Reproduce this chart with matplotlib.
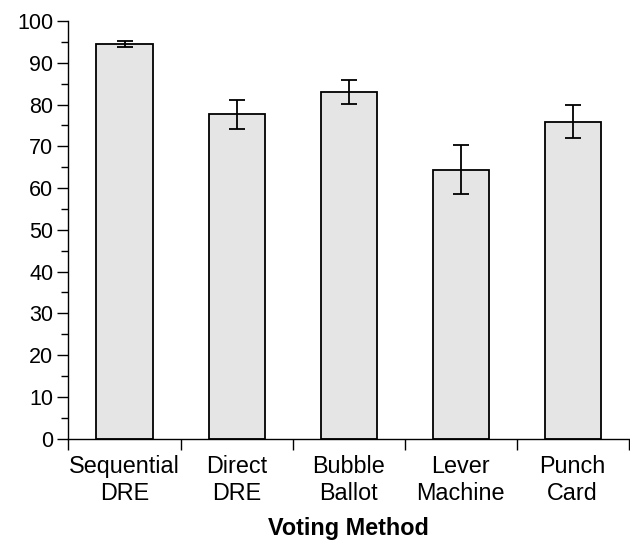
import matplotlib.pyplot as plt
import numpy as np

methods = ['Sequential\nDRE', 'Direct\nDRE', 'Bubble\nBallot', 'Lever\nMachine', 'Punch\nCard']
means = [94.5, 77.7, 83.0, 64.4, 75.9]
errors = [0.8, 3.5, 2.8, 5.9, 3.9]

plt.rcParams['font.family'] = ['Liberation Sans', 'DejaVu Sans']
plt.rcParams['font.size'] = 16.8

fig = plt.figure(figsize=(6.3, 5.42), dpi=100)
ax = fig.add_axes([0.1087, 0.1906, 0.8893, 0.7707])

x = np.arange(len(methods))
ax.bar(x, means, width=0.5, color='#e5e5e5', edgecolor='black', linewidth=1.3, zorder=2)
ax.errorbar(x, means, yerr=errors, fmt='none', ecolor='black', elinewidth=1.3,
            capsize=5.8, capthick=1.3, zorder=3)

ax.set_xlim(-0.5, len(methods) - 0.5)
ax.set_ylim(0, 100)

ax.spines['top'].set_visible(False)
ax.spines['right'].set_visible(False)
ax.spines['left'].set_linewidth(1.0)
ax.spines['bottom'].set_linewidth(1.0)

ax.set_yticks(np.arange(0, 101, 10))
ax.set_yticks(np.arange(5, 100, 10), minor=True)
ax.tick_params(axis='y', which='major', length=8, width=1.0, pad=3, labelsize=15.5)
ax.tick_params(axis='y', which='minor', length=5, width=1.0)

# category dividers as major ticks, names on minor ticks
ax.set_xticks(np.arange(-0.5, len(methods), 1.0))
ax.set_xticklabels([])
ax.set_xticks(x, minor=True)
ax.set_xticklabels(methods, minor=True)
ax.tick_params(axis='x', which='major', length=8, width=1.0)
ax.tick_params(axis='x', which='minor', length=0, pad=12)

ax.set_xlabel('Voting Method', fontweight='bold', labelpad=9)

fig.savefig('out.png', dpi=100)
